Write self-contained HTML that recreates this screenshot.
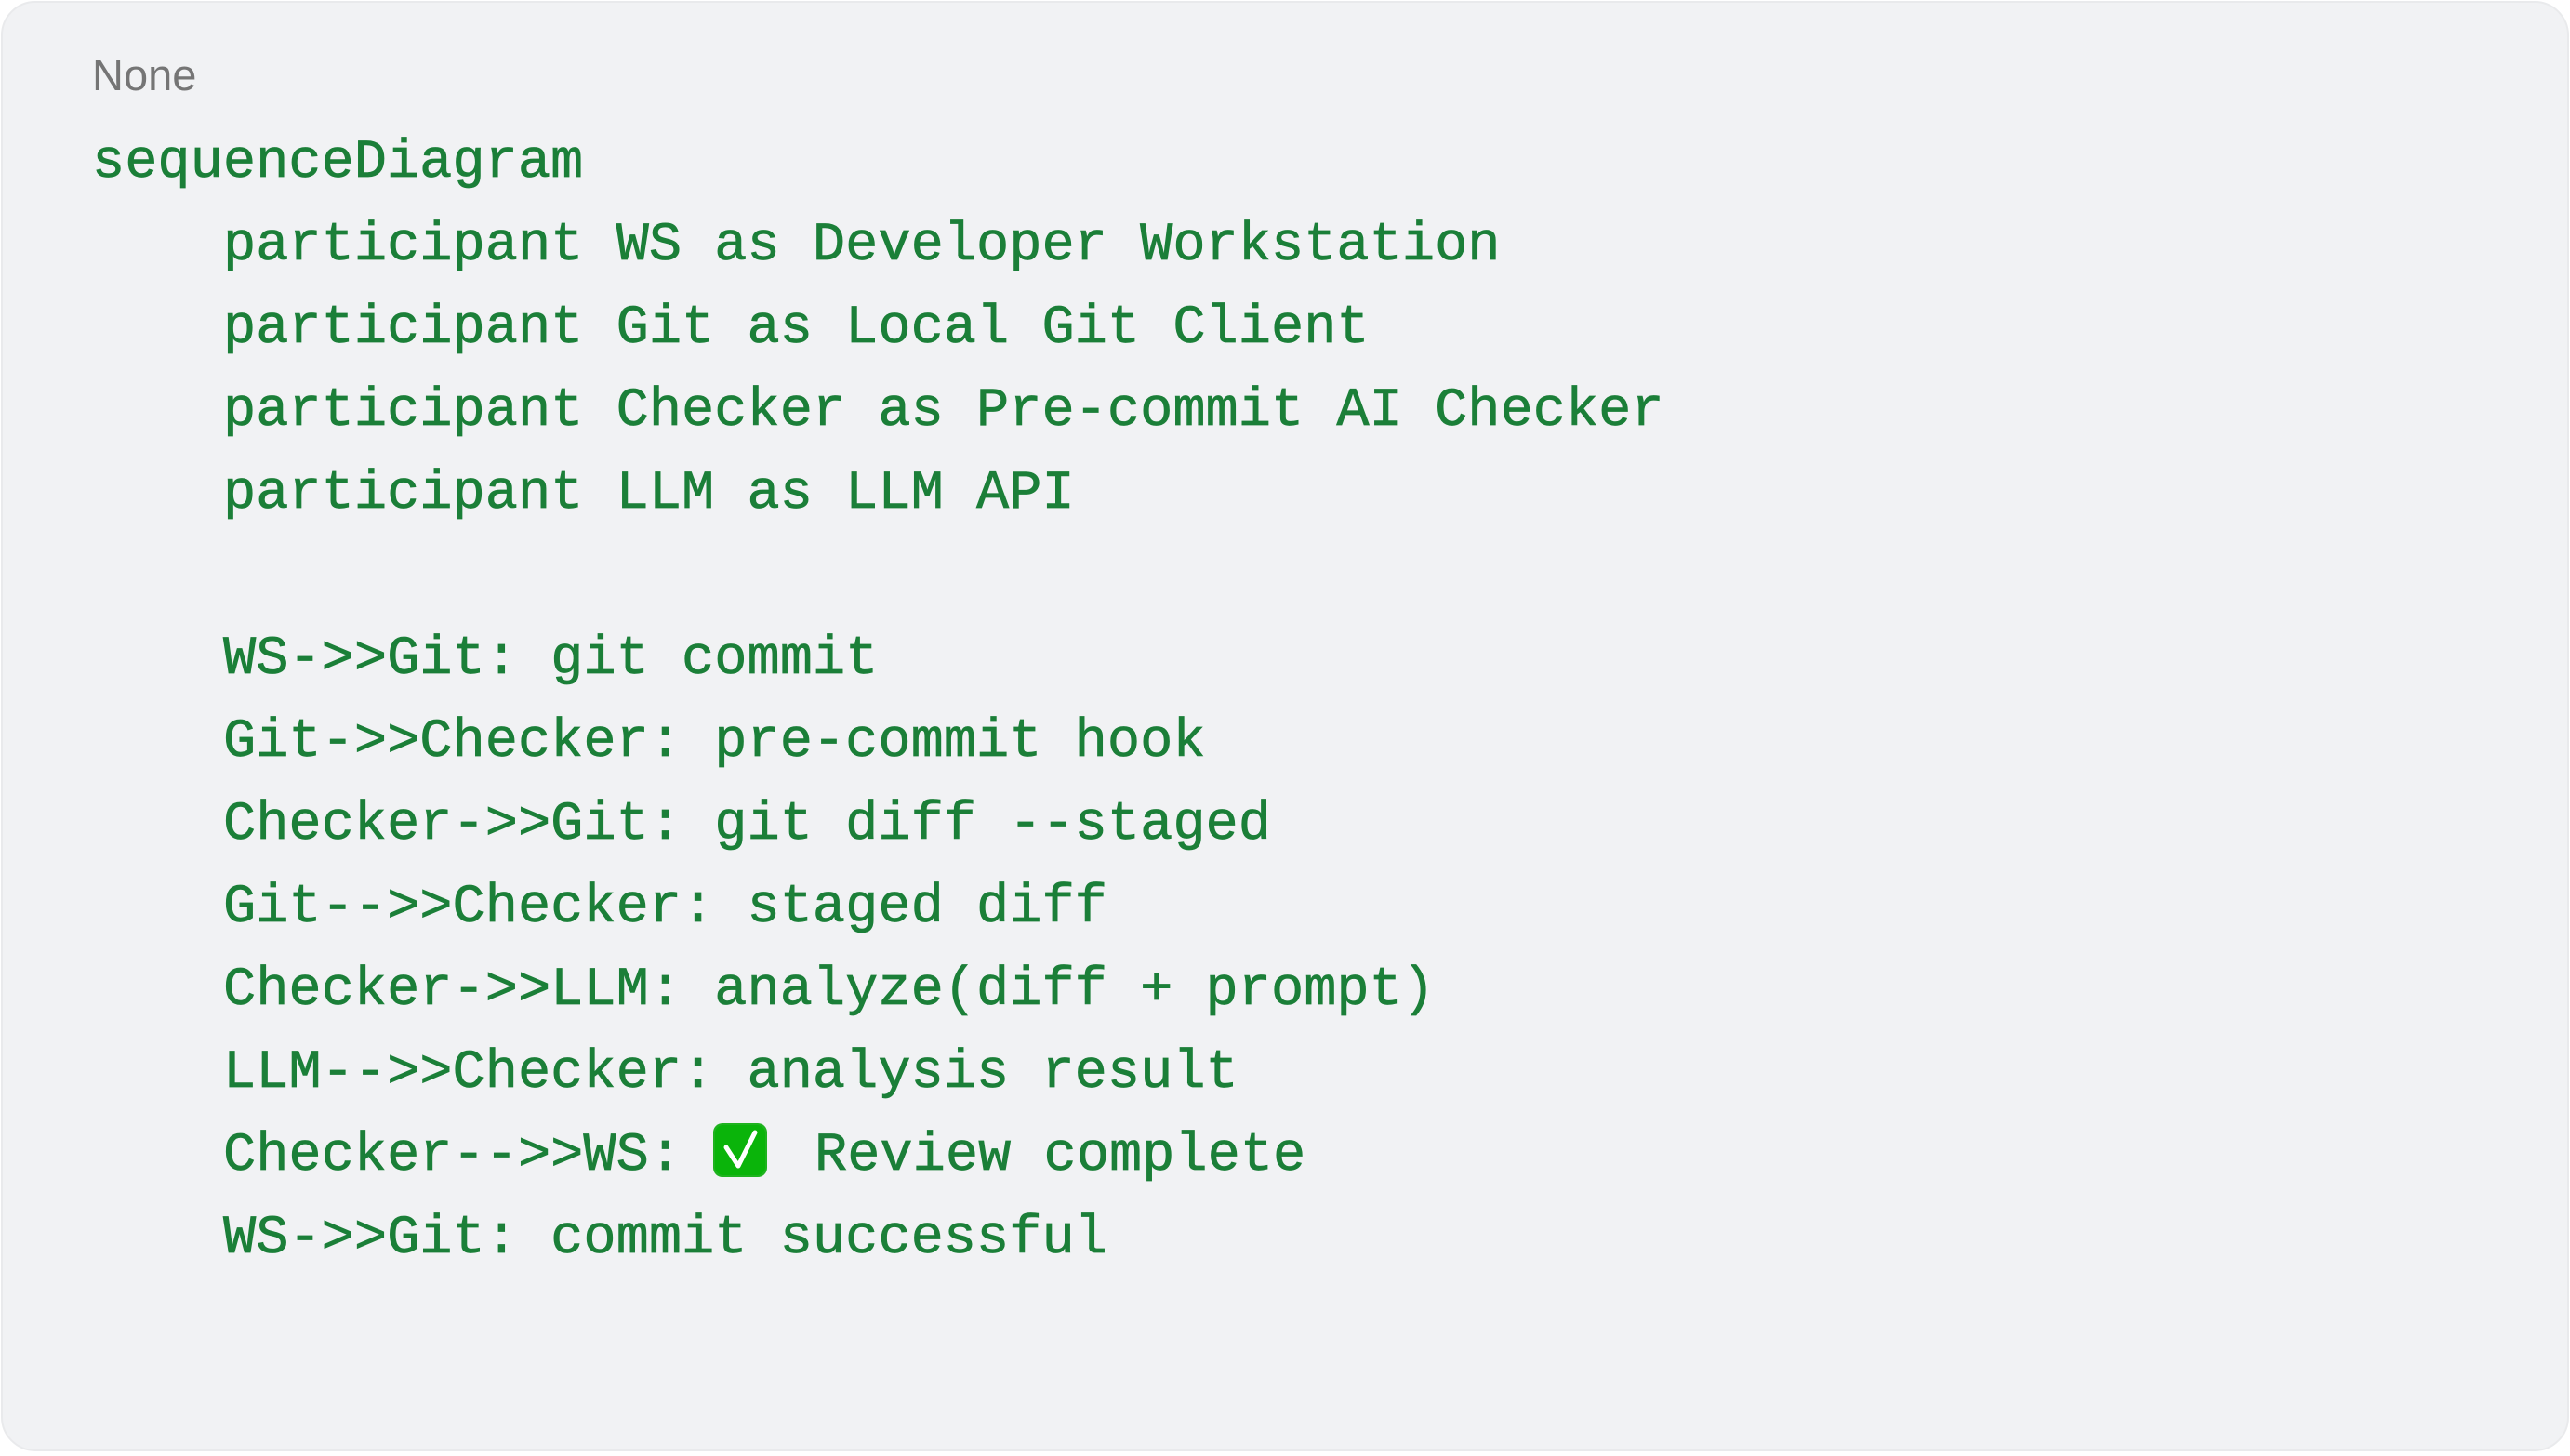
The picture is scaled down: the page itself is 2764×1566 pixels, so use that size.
<!DOCTYPE html>
<html><head><meta charset="utf-8"><style>
html,body{margin:0;padding:0;background:#fff;}
svg{display:block;}
.c{font-family:"Liberation Mono",monospace;font-size:58.7px;fill:#1b7f38;stroke:#1b7f38;stroke-width:0.7px;white-space:pre;}
</style></head><body>
<svg width="2764" height="1566" viewBox="0 0 2764 1566" xmlns="http://www.w3.org/2000/svg">
<rect x="2" y="2" width="2760" height="1558" rx="36" fill="#f1f2f4" stroke="#e9eaec" stroke-width="2"/>
<text x="99" y="97" font-family="Liberation Sans, sans-serif" font-size="47" fill="#757575">None</text>
<g class="c" xml:space="preserve">
<text x="99" y="190">sequenceDiagram</text>
<text x="240" y="279">participant WS as Developer Workstation</text>
<text x="240" y="368">participant Git as Local Git Client</text>
<text x="240" y="457">participant Checker as Pre-commit AI Checker</text>
<text x="240" y="546">participant LLM as LLM API</text>
<text x="240" y="724">WS-&gt;&gt;Git: git commit</text>
<text x="240" y="813">Git-&gt;&gt;Checker: pre-commit hook</text>
<text x="240" y="902">Checker-&gt;&gt;Git: git diff --staged</text>
<text x="240" y="991">Git--&gt;&gt;Checker: staged diff</text>
<text x="240" y="1080">Checker-&gt;&gt;LLM: analyze(diff + prompt)</text>
<text x="240" y="1169">LLM--&gt;&gt;Checker: analysis result</text>
<text x="240" y="1258">Checker--&gt;&gt;WS:</text>
<text x="876" y="1258">Review complete</text>
<text x="240" y="1347">WS-&gt;&gt;Git: commit successful</text>
</g>
<rect x="767" y="1208" width="58" height="58" rx="10" fill="#1fb31f"/>
<rect x="769" y="1210" width="54" height="54" rx="9" fill="#0ab40a"/>
<path d="M781 1234 L794 1254 L812 1218" fill="none" stroke="#fff" stroke-width="5" stroke-linecap="round" stroke-linejoin="round"/>
</svg>
</body></html>
